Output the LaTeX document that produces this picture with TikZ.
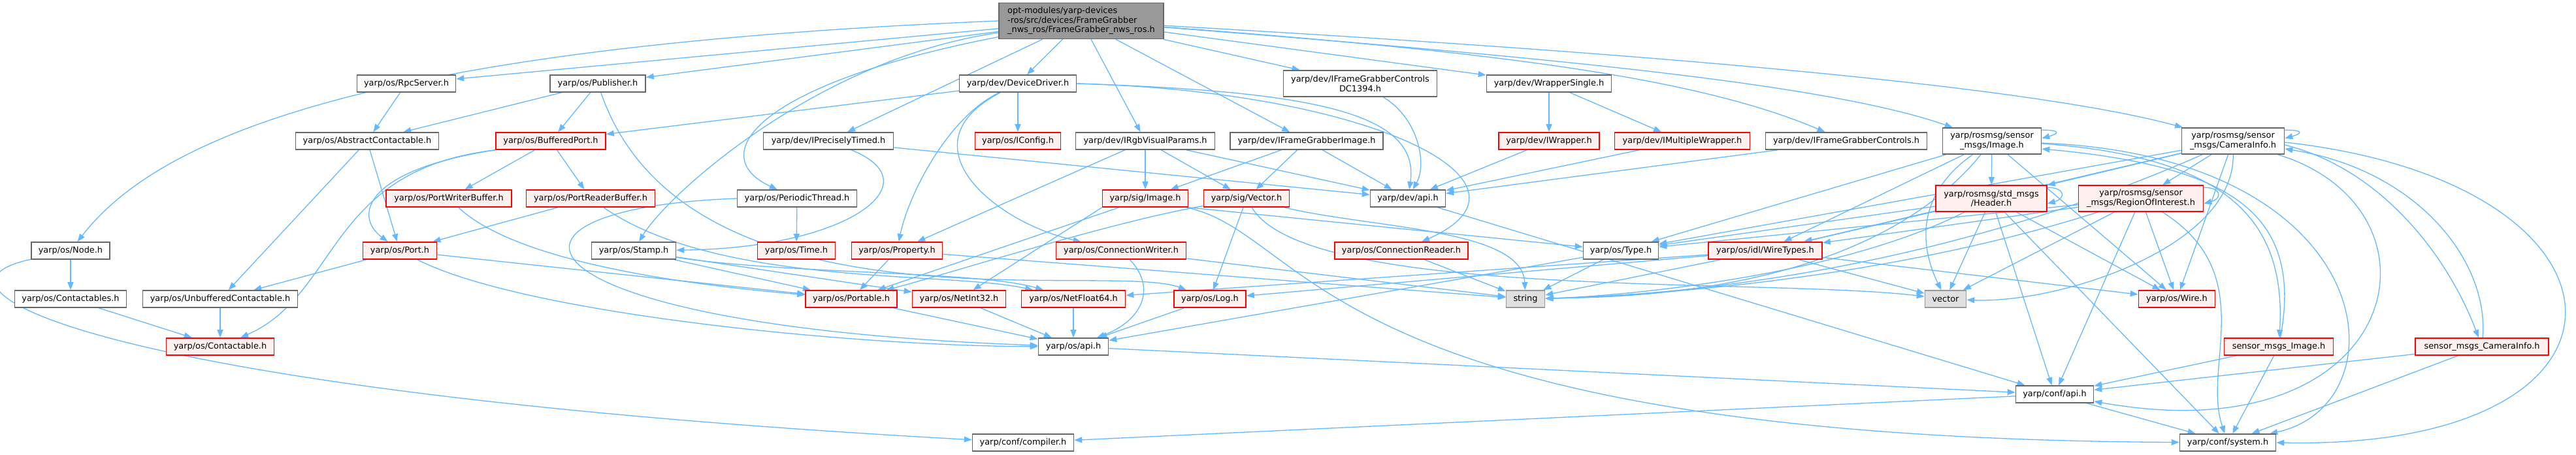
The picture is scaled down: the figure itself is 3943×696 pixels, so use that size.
\documentclass[tikz,border=0pt]{standalone}
\usepackage{fontspec}
\setmainfont{DejaVu Sans}
\usepackage{xcolor}
\usepackage{tikz}
\usetikzlibrary{arrows.meta}
\definecolor{edgeblue}{HTML}{63B8FF}
\definecolor{boxgray}{HTML}{666666}
\definecolor{rootfill}{HTML}{999999}
\definecolor{redfill}{HTML}{FFF0F0}
\definecolor{sysfill}{HTML}{E0E0E0}
\definecolor{sysdraw}{HTML}{999999}
\pgfdeclarelayer{background}
\pgfsetlayers{background,main}

\begin{document}
\begin{tikzpicture}[x=0.5pt, y=-0.5pt,
  every node/.style={font=\fontsize{6.45pt}{7.3pt}\selectfont, inner sep=0pt, align=center, minimum height=13pt, line width=0.8pt},
  hfile/.style={draw=boxgray, fill=white},
  hroot/.style={draw=boxgray, fill=rootfill, align=left, minimum height=27.5pt},
  hred/.style={draw=red, fill=redfill},
  hsys/.style={draw=sysdraw, fill=sysfill},
  tall/.style={minimum height=20pt},
  dep/.style={draw=edgeblue, line width=0.65pt, -{Triangle[length=6pt,width=4.5pt]}}]
\useasboundingbox (0,0) rectangle (3943,696);

% root file
\node[hroot, minimum width=126pt] (root) at (1655,32) {opt-modules/yarp-devices\\-ros/src/devices/FrameGrabber\\\_nws\_ros/FrameGrabber\_nws\_ros.h};

% first level
\node[hfile, minimum width=75.5pt] (rpc) at (622,128) {yarp/os/RpcServer.h};
\node[hfile, minimum width=73pt] (pub) at (915,128) {yarp/os/Publisher.h};
\node[hfile, minimum width=89.5pt] (ddrv) at (1558,128) {yarp/dev/DeviceDriver.h};
\node[hfile, tall, minimum width=117.5pt] (dc1394) at (2082,128) {yarp/dev/IFrameGrabberControls\\DC1394.h};
\node[hfile, minimum width=95.5pt] (wsingle) at (2371,128) {yarp/dev/WrapperSingle.h};

\node[hfile, minimum width=109.5pt] (abscont) at (562,216) {yarp/os/AbstractContactable.h};
\node[hred, minimum width=84pt] (bport) at (843,216) {yarp/os/BufferedPort.h};
\node[hfile, minimum width=99.5pt] (iptimed) at (1268,216) {yarp/dev/IPreciselyTimed.h};
\node[hred, minimum width=65.5pt] (iconfig) at (1558,216) {yarp/os/IConfig.h};
\node[hfile, minimum width=106.5pt] (irgb) at (1753,216) {yarp/dev/IRgbVisualParams.h};
\node[hfile, minimum width=117pt] (ifgimg) at (2000,216) {yarp/dev/IFrameGrabberImage.h};
\node[hred, minimum width=77pt] (iwrapper) at (2371,216) {yarp/dev/IWrapper.h};
\node[hred, minimum width=103.5pt] (imwrapper) at (2575,216) {yarp/dev/IMultipleWrapper.h};
\node[hfile, minimum width=123.5pt] (ifgctrl) at (2826,216) {yarp/dev/IFrameGrabberControls.h};
\node[hfile, tall, minimum width=75.5pt] (rimage) at (3049,216) {yarp/rosmsg/sensor\\\_msgs/Image.h};
\node[hfile, tall, minimum width=78.5pt] (rcaminfo) at (3418,216) {yarp/rosmsg/sensor\\\_msgs/CameraInfo.h};

\node[hred, minimum width=96pt] (pwbuf) at (687,304) {yarp/os/PortWriterBuffer.h};
\node[hred, minimum width=98.5pt] (prbuf) at (904,304) {yarp/os/PortReaderBuffer.h};
\node[hfile, minimum width=91.5pt] (pthread) at (1220,304) {yarp/os/PeriodicThread.h};
\node[hred, minimum width=65.5pt] (image) at (1753,304) {yarp/sig/Image.h};
\node[hred, minimum width=65.5pt] (sigvec) at (1908,304) {yarp/sig/Vector.h};
\node[hfile, minimum width=57.5pt] (devapi) at (2155,304) {yarp/dev/api.h};
\node[hred, tall, minimum width=85pt] (hdr) at (3048,304) {yarp/rosmsg/std\_msgs\\/Header.h};
\node[hred, tall, minimum width=95.5pt] (roi) at (3277,304) {yarp/rosmsg/sensor\\\_msgs/RegionOfInterest.h};

\node[hfile, minimum width=60pt] (node) at (108,384) {yarp/os/Node.h};
\node[hred, minimum width=56.5pt] (port) at (612,384) {yarp/os/Port.h};
\node[hfile, minimum width=64.5pt] (stamp) at (970,384) {yarp/os/Stamp.h};
\node[hred, minimum width=59.5pt] (time) at (1219,384) {yarp/os/Time.h};
\node[hred, minimum width=69.5pt] (property) at (1373,384) {yarp/os/Property.h};
\node[hred, minimum width=99.5pt] (connwriter) at (1716,384) {yarp/os/ConnectionWriter.h};
\node[hred, minimum width=102pt] (connreader) at (2145,384) {yarp/os/ConnectionReader.h};
\node[hfile, minimum width=57.5pt] (type) at (2481,384) {yarp/os/Type.h};
\node[hred, minimum width=87pt] (wiretypes) at (2702,384) {yarp/os/idl/WireTypes.h};

\node[hfile, minimum width=85.5pt] (contacts) at (108,458) {yarp/os/Contactables.h};
\node[hfile, minimum width=118.5pt] (unbuf) at (337,458) {yarp/os/UnbufferedContactable.h};
\node[hred, minimum width=70pt] (portable) at (1303,458) {yarp/os/Portable.h};
\node[hred, minimum width=71.5pt] (netint) at (1468,458) {yarp/os/NetInt32.h};
\node[hred, minimum width=79.5pt] (netfloat) at (1643,458) {yarp/os/NetFloat64.h};
\node[hred, minimum width=55pt] (log) at (1852,458) {yarp/os/Log.h};
\node[hsys, minimum width=29.5pt] (string) at (2335,458) {string};
\node[hsys, minimum width=31.5pt] (vector) at (2978,458) {vector};
\node[hred, minimum width=58.5pt] (wire) at (3332,458) {yarp/os/Wire.h};

\node[hred, minimum width=82.5pt] (contact) at (337,531) {yarp/os/Contactable.h};
\node[hfile, minimum width=53.5pt] (osapi) at (1643,531) {yarp/os/api.h};
\node[hred, minimum width=83.5pt] (smimage) at (3488,531) {sensor\_msgs\_Image.h};
\node[hred, minimum width=102pt] (smcaminfo) at (3799,531) {sensor\_msgs\_CameraInfo.h};

\node[hfile, minimum width=59.5pt] (confapi) at (3145,604) {yarp/conf/api.h};
\node[hfile, minimum width=77.5pt] (compiler) at (1566,678) {yarp/conf/compiler.h};
\node[hfile, minimum width=73.5pt] (system) at (3410,678) {yarp/conf/system.h};

\begin{pgfonlayer}{background}
% from the root
\draw[dep] (root.west) .. controls (600,70) and (250,200) .. (node);
\draw[dep] (root) -- (rpc);
\draw[dep] (root) -- (pub);
\draw[dep] (root) -- (ddrv);
\draw[dep] (root) -- (iptimed);
\draw[dep] (root) .. controls (1150,130) and (1080,240) .. (pthread);
\draw[dep] (root) .. controls (1250,90) and (1020,300) .. (stamp);
\draw[dep] (root) -- (irgb);
\draw[dep] (root) -- (ifgimg);
\draw[dep] (root) -- (dc1394);
\draw[dep] (root) -- (wsingle);
\draw[dep] (root) .. controls (2300,80) and (2600,120) .. (ifgctrl);
\draw[dep] (root) .. controls (2400,90) and (2800,130) .. (rimage);
\draw[dep] (root) .. controls (2500,80) and (3100,130) .. (rcaminfo);

% os ports
\draw[dep] (rpc) -- (abscont);
\draw[dep] (pub) -- (abscont);
\draw[dep] (pub) -- (bport);
\draw[dep] (pub) .. controls (1050,520) and (1700,400) .. (log);
\draw[dep] (abscont) -- (unbuf);
\draw[dep] (abscont) -- (port);
\draw[dep] (bport.south west) .. controls (560,260) and (540,330) .. (port);
\draw[dep] (bport.south west) .. controls (500,260) and (520,450) .. (contact);
\draw[dep] (bport) -- (pwbuf);
\draw[dep] (bport) -- (prbuf);
\draw[dep] (pwbuf) .. controls (800,410) and (1100,440) .. (portable);
\draw[dep] (prbuf) -- (port);
\draw[dep] (prbuf) .. controls (1100,440) and (1450,415) .. (netfloat);
\draw[dep] (port) -- (unbuf);
\draw[dep] (port) -- (portable);
\draw[dep] (port) .. controls (800,480) and (1300,530) .. (osapi);
\draw[dep] (node) -- (contacts);
\draw[dep] (node) .. controls (-150,440) and (150,600) .. (compiler);
\draw[dep] (contacts) -- (contact);
\draw[dep] (unbuf) -- (contact);

% devices
\draw[dep] (ddrv) -- (iconfig);
\draw[dep] (ddrv) -- (bport);
\draw[dep] (ddrv) .. controls (1450,180) and (1390,300) .. (property);
\draw[dep] (ddrv) .. controls (1380,220) and (1520,340) .. (connwriter);
\draw[dep] (ddrv.east) .. controls (2000,140) and (2175,170) .. (devapi);
\draw[dep] (ddrv.east) .. controls (2100,140) and (2380,280) .. (connreader);
\draw[dep] (iptimed) .. controls (1430,280) and (1300,380) .. (stamp);
\draw[dep] (iptimed) -- (devapi);
\draw[dep] (pthread) -- (time);
\draw[dep] (pthread.west) .. controls (700,320) and (780,500) .. (osapi);
\draw[dep] (irgb) -- (property);
\draw[dep] (irgb) -- (image);
\draw[dep] (irgb) -- (sigvec);
\draw[dep] (irgb) -- (devapi);
\draw[dep] (ifgimg) -- (image);
\draw[dep] (ifgimg) -- (sigvec);
\draw[dep] (ifgimg) -- (devapi);
\draw[dep] (dc1394) .. controls (2170,180) and (2185,250) .. (devapi);
\draw[dep] (wsingle) -- (iwrapper);
\draw[dep] (wsingle) -- (imwrapper);
\draw[dep] (iwrapper) -- (devapi);
\draw[dep] (imwrapper) -- (devapi);
\draw[dep] (ifgctrl) -- (devapi);

% lower os and sig headers
\draw[dep] (stamp) -- (portable);
\draw[dep] (stamp) -- (netint);
\draw[dep] (stamp) .. controls (1200,420) and (1500,415) .. (netfloat);
\draw[dep] (property) -- (portable);
\draw[dep] (property) -- (string);
\draw[dep] (image.south west) -- (netint);
\draw[dep] (image) -- (portable);
\draw[dep] (image.south east) -- (type);
\draw[dep] (image) .. controls (2010,360) and (2010,670) .. (system);
\draw[dep] (sigvec) .. controls (1700,340) and (1450,420) .. (portable);
\draw[dep] (sigvec) -- (log);
\draw[dep] (sigvec) .. controls (2100,350) and (2330,350) .. (string);
\draw[dep] (sigvec) .. controls (2000,460) and (2700,425) .. (vector);
\draw[dep] (connwriter) .. controls (1770,440) and (1750,490) .. (osapi);
\draw[dep] (connwriter) -- (string);
\draw[dep] (connreader) -- (string);
\draw[dep] (type) -- (string);
\draw[dep] (type) -- (osapi);
\draw[dep] (portable) -- (osapi);
\draw[dep] (netint) -- (osapi);
\draw[dep] (netfloat) -- (osapi);
\draw[dep] (log) -- (osapi);
\draw[dep] (osapi) -- (confapi);
\draw[dep] (devapi) -- (confapi);
\draw[dep] (confapi) -- (compiler);
\draw[dep] (confapi) -- (system);
\draw[dep] (wiretypes) -- (vector);
\draw[dep] (wiretypes) -- (wire);
\draw[dep] (wiretypes) -- (log);
\draw[dep] (wiretypes) -- (string);
\draw[dep] (wiretypes) -- (netfloat);

% rosmsg image
\draw[dep] (rimage) -- (hdr);
\draw[dep] ([yshift=-2pt]rimage.north east) .. controls +(14pt,0pt) and +(14pt,4pt) .. ([yshift=2pt]rimage.east);
\draw[dep] ([yshift=-2pt]rimage.east) .. controls (3400,240) and (3500,330) .. (smimage);
\draw[dep] (smimage) .. controls (3525,330) and (3420,255) .. ([yshift=-6pt]rimage.east);
\draw[dep] (rimage) -- (wiretypes);
\draw[dep] (rimage) -- (type);
\draw[dep] (rimage) .. controls (2850,460) and (2450,455) .. (string);
\draw[dep] (rimage) .. controls (2930,300) and (2940,380) .. (vector);
\draw[dep] (rimage) -- (wire);
\draw[dep] (rimage) .. controls (3650,240) and (3680,620) .. (system);
\draw[dep] (smimage) -- (confapi);
\draw[dep] (smimage) -- (system);

% rosmsg header
\draw[dep] ([yshift=-2pt]hdr.north east) .. controls +(14pt,0pt) and +(14pt,4pt) .. ([yshift=-4pt]hdr.east);
\draw[dep] (hdr) -- (wiretypes);
\draw[dep] (hdr) -- (type);
\draw[dep] (hdr) .. controls (2800,430) and (2450,455) .. (string);
\draw[dep] (hdr) -- (vector);
\draw[dep] (hdr) -- (wire);
\draw[dep] (hdr) -- (confapi);
\draw[dep] (hdr) -- (system);

% rosmsg region of interest
\draw[dep] ([yshift=-2pt]roi.north east) .. controls +(14pt,0pt) and +(14pt,4pt) .. ([yshift=-4pt]roi.east);
\draw[dep] (roi) -- (wiretypes);
\draw[dep] (roi) -- (type);
\draw[dep] (roi) .. controls (2850,440) and (2450,455) .. (string);
\draw[dep] (roi) -- (vector);
\draw[dep] (roi) -- (wire);
\draw[dep] (roi) -- (confapi);
\draw[dep] (roi) .. controls (3460,420) and (3370,560) .. (system);

% rosmsg camera info
\draw[dep] ([yshift=-2pt]rcaminfo.north east) .. controls +(14pt,0pt) and +(14pt,4pt) .. ([yshift=2pt]rcaminfo.east);
\draw[dep] (rcaminfo) -- (roi);
\draw[dep] (rcaminfo) -- (hdr);
\draw[dep] (rcaminfo) -- (wiretypes);
\draw[dep] (rcaminfo) -- (type);
\draw[dep] (rcaminfo) .. controls (2900,445) and (2450,455) .. (string);
\draw[dep] (rcaminfo) .. controls (3420,380) and (3150,465) .. (vector);
\draw[dep] (rcaminfo) -- (wire);
\draw[dep] (rcaminfo) .. controls (3760,320) and (3680,700) .. (confapi);
\draw[dep] ([yshift=-1pt]rcaminfo.east) .. controls (4060,280) and (4080,690) .. (system.east);
\draw[dep] ([yshift=-3pt]rcaminfo.east) .. controls (3650,260) and (3750,400) .. (smcaminfo);
\draw[dep] (smcaminfo) .. controls (3810,400) and (3700,260) .. ([yshift=-6pt]rcaminfo.east);
\draw[dep] (smcaminfo) -- (confapi);
\draw[dep] (smcaminfo) -- (system);
\end{pgfonlayer}
\end{tikzpicture}
\end{document}
